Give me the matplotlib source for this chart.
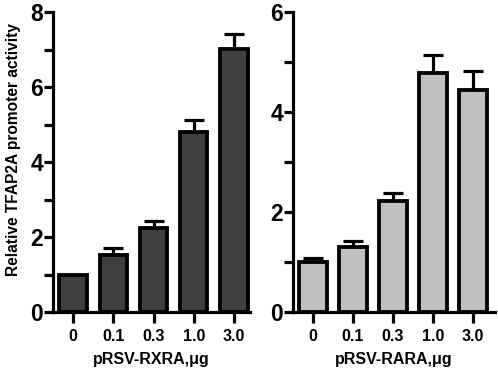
import matplotlib
matplotlib.use("Agg")
import matplotlib.pyplot as plt
import numpy as np

plt.rcParams['font.family'] = ['Liberation Sans', 'DejaVu Sans']
plt.rcParams['font.weight'] = 'bold'

categories = ["0", "0.1", "0.3", "1.0", "3.0"]
rxra_values = [1.0, 1.52, 2.24, 4.80, 7.01]
rxra_upper = [1.0, 1.70, 2.43, 5.12, 7.41]
rara_values = [1.0, 1.30, 2.23, 4.78, 4.45]
rara_upper = [1.08, 1.43, 2.38, 5.15, 4.83]

LW = 2.3

fig = plt.figure(figsize=(4.98, 3.73), dpi=100)
ax1 = fig.add_axes([53/498, 1-312/373, 197/498, 300/373])
ax2 = fig.add_axes([293/498, 1-312/373, 202/498, 300/373])

def draw(ax, vals, upper, color, ymax, xlabel, xlim):
    x = np.arange(len(categories))
    err = np.array(upper) - np.array(vals)
    ax.errorbar(x, vals, yerr=[np.zeros_like(err), err], fmt='none', ecolor='black',
                elinewidth=LW, capsize=7, capthick=LW, zorder=1)
    ax.bar(x, vals, width=0.68, color=color, edgecolor='black', linewidth=LW*1.2, zorder=2)
    ax.set_xlim(*xlim)
    ax.set_ylim(0, ymax)
    ax.set_xticks(x)
    ax.set_xticklabels(categories, fontsize=11.5, fontweight='bold')
    ax.set_yticks(np.arange(0, ymax+0.1, 2))
    ax.set_yticks(np.arange(1, ymax, 2), minor=True)
    ax.tick_params(axis='y', which='major', labelsize=16.5, width=LW, length=6.5, pad=0.5)
    ax.tick_params(axis='y', which='minor', width=LW, length=6.5)
    ax.tick_params(axis='x', width=LW, length=8, pad=4)
    for lab in ax.get_yticklabels():
        lab.set_fontweight('bold')
    for s in ['top', 'right']:
        ax.spines[s].set_visible(False)
    for s in ['left', 'bottom']:
        ax.spines[s].set_linewidth(LW)
    ax.set_xlabel(xlabel, fontsize=11.5, fontweight='bold', labelpad=6)

draw(ax1, rxra_values, rxra_upper, '#404040', 8, 'pRSV-RXRA,\u03bcg', (-0.5, 4.4))
draw(ax2, rara_values, rara_upper, '#c0c0c0', 6, 'pRSV-RARA,\u03bcg', (-0.5, 4.55))
ax1.set_ylabel('Relative TFAP2A promoter activity', fontsize=11.2, fontweight='bold')
ax1.yaxis.set_label_coords(-0.16, 0.54)

fig.savefig('out.png', dpi=100)
